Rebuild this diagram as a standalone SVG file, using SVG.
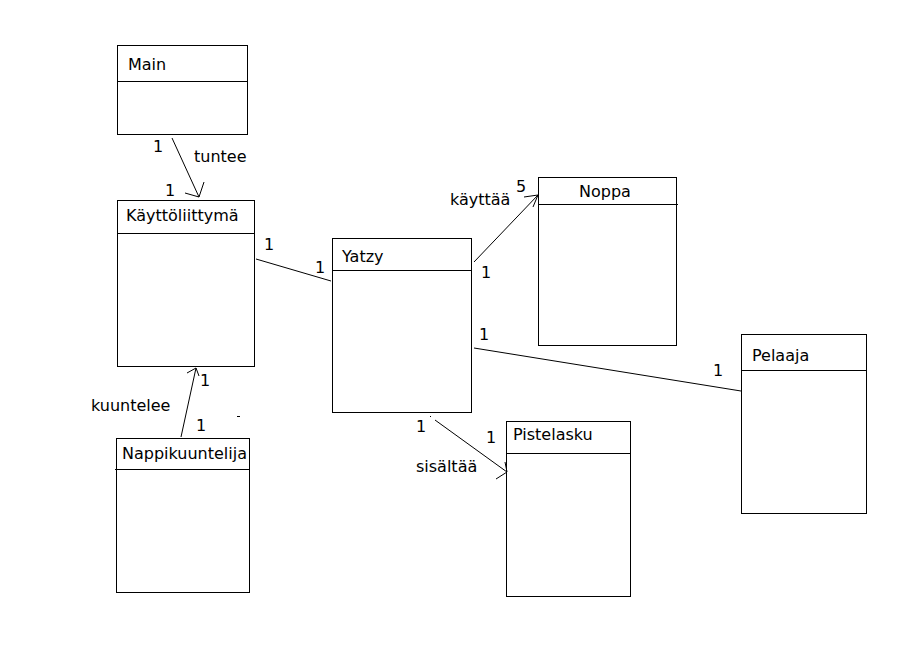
<svg xmlns="http://www.w3.org/2000/svg" width="923" height="658" viewBox="0 0 923 658">
  <style>
    .box { fill: #ffffff; stroke: #000000; stroke-width: 1; }
    .div { stroke: #000000; stroke-width: 1; }
    .name { font-family: "DejaVu Sans", sans-serif; font-size: 16px; fill: #000000; }
    .lbl { font-family: "DejaVu Sans", sans-serif; font-size: 16px; fill: #000000; }
    .edge { stroke: #000000; stroke-width: 1; fill: none; }
  </style>
  <rect x="0" y="0" width="923" height="658" fill="#ffffff"/>

  <g id="main">
    <rect class="box" x="117.5" y="45.5" width="130" height="89"/>
    <line class="div" x1="117.5" y1="81.5" x2="247.5" y2="81.5"/>
    <text class="name" x="128" y="70">Main</text>
  </g>

  <g id="kayttoliittyma">
    <rect class="box" x="117.5" y="200.5" width="137" height="166"/>
    <line class="div" x1="117.5" y1="233.5" x2="254.5" y2="233.5"/>
    <text class="name" x="126" y="221">Käyttöliittymä</text>
  </g>

  <g id="nappikuuntelija">
    <rect class="box" x="116.5" y="438.5" width="133" height="154"/>
    <line class="div" x1="115" y1="469.5" x2="250" y2="469.5"/>
    <text class="name" x="122" y="459">Nappikuuntelija</text>
  </g>

  <g id="yatzy">
    <rect class="box" x="332.5" y="238.5" width="139" height="174"/>
    <line class="div" x1="332.5" y1="270.5" x2="471.5" y2="270.5"/>
    <text class="name" x="342" y="262">Yatzy</text>
  </g>

  <g id="noppa">
    <rect class="box" x="538.5" y="177.5" width="138" height="168"/>
    <line class="div" x1="538.5" y1="204.5" x2="678" y2="204.5"/>
    <text class="name" x="579" y="197">Noppa</text>
  </g>

  <g id="pelaaja">
    <rect class="box" x="741.5" y="334.5" width="125" height="179"/>
    <line class="div" x1="741.5" y1="370.5" x2="866.5" y2="370.5"/>
    <text class="name" x="752" y="361">Pelaaja</text>
  </g>

  <g id="pistelasku">
    <rect class="box" x="506.5" y="421.5" width="124" height="175"/>
    <line class="div" x1="506.5" y1="453.5" x2="630.5" y2="453.5"/>
    <text class="name" x="513" y="440">Pistelasku</text>
  </g>

  <g id="connectors">
    <!-- Main tuntee Käyttöliittymä -->
    <line class="edge" x1="172" y1="138" x2="199" y2="197"/>
    <polyline class="edge" points="185,193 199,197 204,182"/>
    <text class="lbl" x="153" y="152">1</text>
    <text class="lbl" x="194" y="162">tuntee</text>
    <text class="lbl" x="165" y="196">1</text>

    <!-- Käyttöliittymä – Yatzy -->
    <line class="edge" x1="256" y1="259" x2="331" y2="281"/>
    <text class="lbl" x="264" y="250">1</text>
    <text class="lbl" x="315" y="273">1</text>

    <!-- Nappikuuntelija kuuntelee Käyttöliittymä -->
    <line class="edge" x1="181" y1="437" x2="196" y2="368"/>
    <polyline class="edge" points="187,373 196,368 199,376"/>
    <text class="lbl" x="200" y="386">1</text>
    <text class="lbl" x="91" y="411">kuuntelee</text>
    <text class="lbl" x="196" y="431">1</text>
    <line class="edge" x1="237" y1="416.5" x2="240" y2="416.5"/>

    <!-- Yatzy käyttää Noppa -->
    <line class="edge" x1="474" y1="262" x2="538" y2="195"/>
    <polyline class="edge" points="524,197 538,195 533,207"/>
    <text class="lbl" x="516" y="192">5</text>
    <text class="lbl" x="450" y="205">käyttää</text>
    <text class="lbl" x="481" y="278">1</text>

    <!-- Yatzy – Pelaaja -->
    <line class="edge" x1="474" y1="348" x2="741" y2="391"/>
    <text class="lbl" x="479" y="340">1</text>
    <text class="lbl" x="713" y="376">1</text>

    <!-- Yatzy sisältää Pistelasku -->
    <line class="edge" x1="435" y1="420" x2="507" y2="472"/>
    <polyline class="edge" points="496,479 507,472 505,462"/>
    <line class="edge" x1="430" y1="416.5" x2="431" y2="416.5"/>
    <text class="lbl" x="416" y="432">1</text>
    <text class="lbl" x="486" y="443">1</text>
    <text class="lbl" x="416" y="472">sisältää</text>
  </g>
</svg>
